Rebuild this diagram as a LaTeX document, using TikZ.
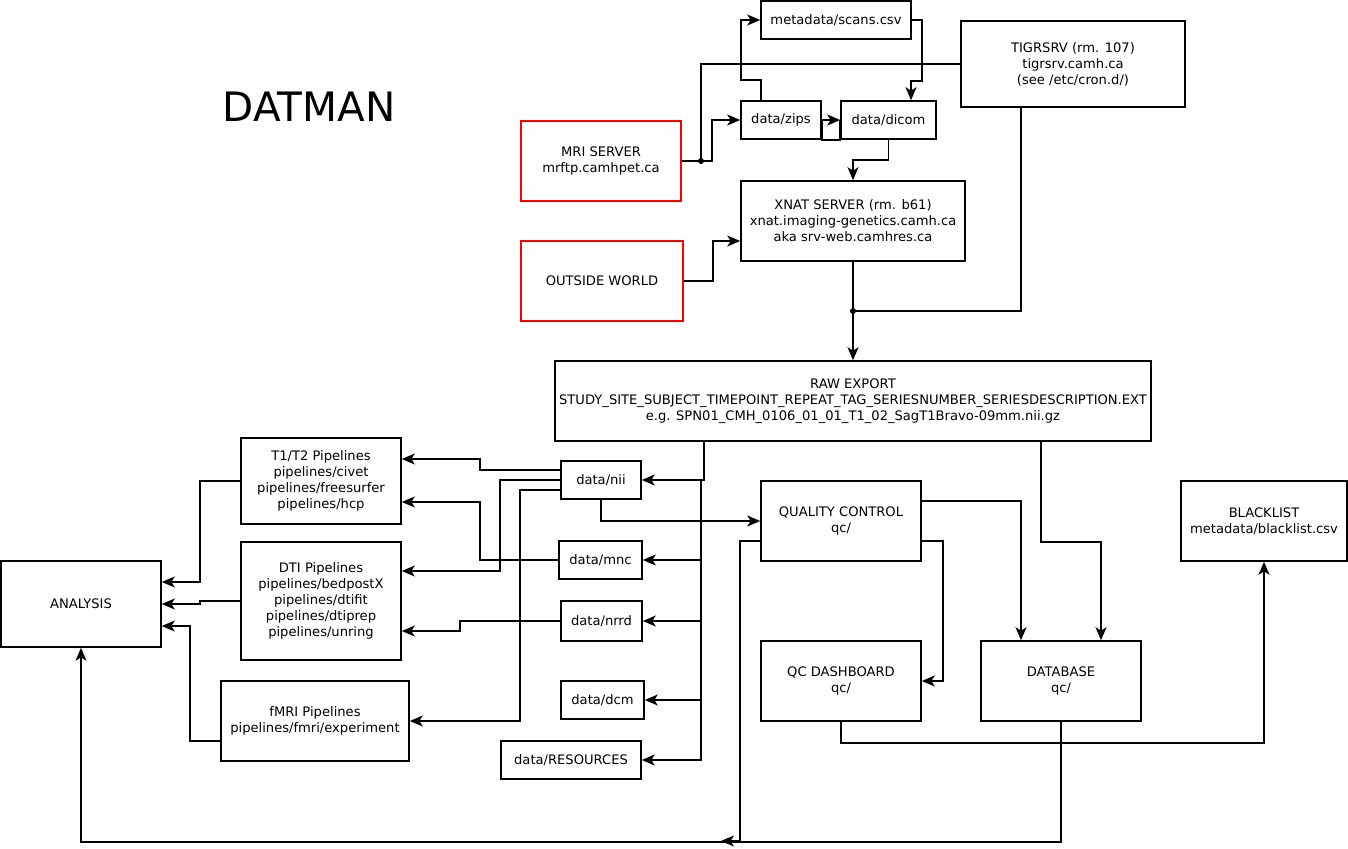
\documentclass[tikz,border=0pt]{standalone}
\usepackage{fontspec}
\setmainfont{DejaVu Sans}
\usetikzlibrary{arrows.meta}

\tikzset{
  box/.style={draw,line width=1.6pt,align=center,inner sep=0pt,font=\fontsize{13.1}{16}\selectfont},
  redbox/.style={box,draw=red},
  link/.style={line width=1.6pt,-{Stealth[length=13pt,width=11pt,inset=3.5pt]}},
  wire/.style={line width=1.6pt},
}

\begin{document}
\begin{tikzpicture}[x=1pt,y=-1pt]
\useasboundingbox (0,0) rectangle (1348,848);

\node[font=\fontsize{40.5}{42}\selectfont] (title) at (309,107) {DATMAN};

% servers and raw data
\node[box,minimum width=150pt,minimum height=38pt] (scans) at (836,20) {metadata/scans.csv};
\node[box,minimum width=224pt,minimum height=86pt] (tigr) at (1073,64) {TIGRSRV (rm. 107)\\tigrsrv.camh.ca\\(see /etc/cron.d/)};
\node[box,minimum width=80pt,minimum height=38pt] (zips) at (781,120) {data/zips};
\node[box,minimum width=95pt,minimum height=38pt] (dicom) at (888.5,120) {data/dicom};
\node[redbox,minimum width=160pt,minimum height=80pt] (mri) at (601,161) {MRI SERVER\\mrftp.camhpet.ca};
\node[redbox,minimum width=162pt,minimum height=80pt] (outside) at (602,281) {OUTSIDE WORLD};
\node[box,minimum width=224pt,minimum height=80pt] (xnat) at (853,221) {XNAT SERVER (rm. b61)\\xnat.imaging-genetics.camh.ca\\aka srv-web.camhres.ca};
\node[box,minimum width=596pt,minimum height=80pt] (raw) at (853,401) {RAW EXPORT\\STUDY\_SITE\_SUBJECT\_TIMEPOINT\_REPEAT\_TAG\_SERIESNUMBER\_SERIESDESCRIPTION.EXT\\e.g. SPN01\_CMH\_0106\_01\_01\_T1\_02\_SagT1Bravo-09mm.nii.gz};

% data folders
\node[box,minimum width=80pt,minimum height=38pt] (nii) at (601,480) {data/nii};
\node[box,minimum width=83pt,minimum height=38pt] (mnc) at (600.5,560) {data/mnc};
\node[box,minimum width=81pt,minimum height=40pt] (nrrd) at (601.5,621) {data/nrrd};
\node[box,minimum width=83pt,minimum height=38pt] (dcm) at (602.5,700) {data/dcm};
\node[box,minimum width=140pt,minimum height=38pt] (res) at (571,760) {data/RESOURCES};

% pipelines
\node[box,minimum width=160pt,minimum height=86pt] (t1) at (321,481) {T1/T2 Pipelines\\pipelines/civet\\pipelines/freesurfer\\pipelines/hcp};
\node[box,minimum width=160pt,minimum height=118pt] (dti) at (321,601) {DTI Pipelines\\pipelines/bedpostX\\pipelines/dtifit\\pipelines/dtiprep\\pipelines/unring};
\node[box,minimum width=188pt,minimum height=80pt] (fmri) at (315,721) {fMRI Pipelines\\pipelines/fmri/experiment};
\node[box,minimum width=160pt,minimum height=86pt] (ana) at (81,604) {ANALYSIS};

% qc side
\node[box,minimum width=160pt,minimum height=80pt] (qc) at (841,521) {QUALITY CONTROL\\qc/};
\node[box,minimum width=160pt,minimum height=80pt] (dash) at (841,681) {QC DASHBOARD\\qc/};
\node[box,minimum width=160pt,minimum height=80pt] (db) at (1061,681) {DATABASE\\qc/};
\node[box,minimum width=166pt,minimum height=80pt] (black) at (1264,521) {BLACKLIST\\metadata/blacklist.csv};

\coordinate (mrijoin) at (701,161);
\coordinate (xnatjoin) at (853,311);
\coordinate (bus) at (701,480);
\coordinate (qcend) at (721,841);

% top part
\draw[link] (mri.east) -- ++(30,0) |- (zips.west);
\draw[wire] (tigr.west) -| (mrijoin);
\fill (mrijoin) circle (3);
\draw[link] ([xshift=-20pt]zips.north) -- ++(0,-20) -- ++(-20,0) |- (scans.west);
\draw[link] (scans.east) -- ++(10,0) -- ++(0,61) -| ([xshift=22.5pt]dicom.north);
\draw[link] (zips.east) -- (dicom.west);
\draw[wire] (zips.east) -- ++(0,20) -| (dicom.west);
\draw[link] (dicom.south) -- ++(0,20) -| (xnat.north);
\draw[link] (outside.east) -- ++(29,0) |- ([yshift=-20pt]xnat.west);
\draw[link] (xnat.south) -- (raw.north);
\draw[wire] ([xshift=-52pt]tigr.south) |- (xnatjoin);
\fill (xnatjoin) circle (3);

% raw export to data folders
\draw[link] ([xshift=-149pt]raw.south) |- (nii.east);
\foreach \d in {mnc,nrrd,dcm,res}
  \draw[link] (bus) |- (\d.east);
\draw[link] (nii.south) |- (qc.west);

% data folders to pipelines
\draw[link] ([yshift=10pt]nii.west) -- ++(-80,0) |- ([yshift=22pt]t1.east);
\draw[link] (nii.west) -- ++(-60,0) |- ([yshift=30pt]dti.east);
\draw[link] ([yshift=-10pt]nii.west) -- ++(-40,0) |- (fmri.east);
\draw[link] (mnc.west) -- ++(-78,0) |- ([yshift=-21pt]t1.east);
\draw[link] (nrrd.west) -- ++(-100,0) |- ([yshift=-30pt]dti.east);

% pipelines to analysis
\draw[link] (t1.west) -- ++(-40,0) |- ([yshift=22pt]ana.east);
\draw[link] (dti.west) -- ++(-40,0) |- (ana.east);
\draw[link] ([yshift=-20pt]fmri.west) -- ++(-30,0) |- ([yshift=-22pt]ana.east);

% qc and database
\draw[link] ([yshift=-20pt]qc.east) -- ++(21,0) |- (dash.east);
\draw[link] ([yshift=20pt]qc.east) -| ([xshift=-40pt]db.north);
\draw[link] ([xshift=188pt]raw.south) -- ++(0,100) -| ([xshift=40pt]db.north);
\draw[link] (dash.south) -- ++(0,21) -| (black.south);
\draw[link] (db.south) -- ++(0,120) -| (ana.south);
\draw[link] ([yshift=-20pt]qc.west) -- ++(-20,0) |- (qcend);
\end{tikzpicture}
\end{document}
